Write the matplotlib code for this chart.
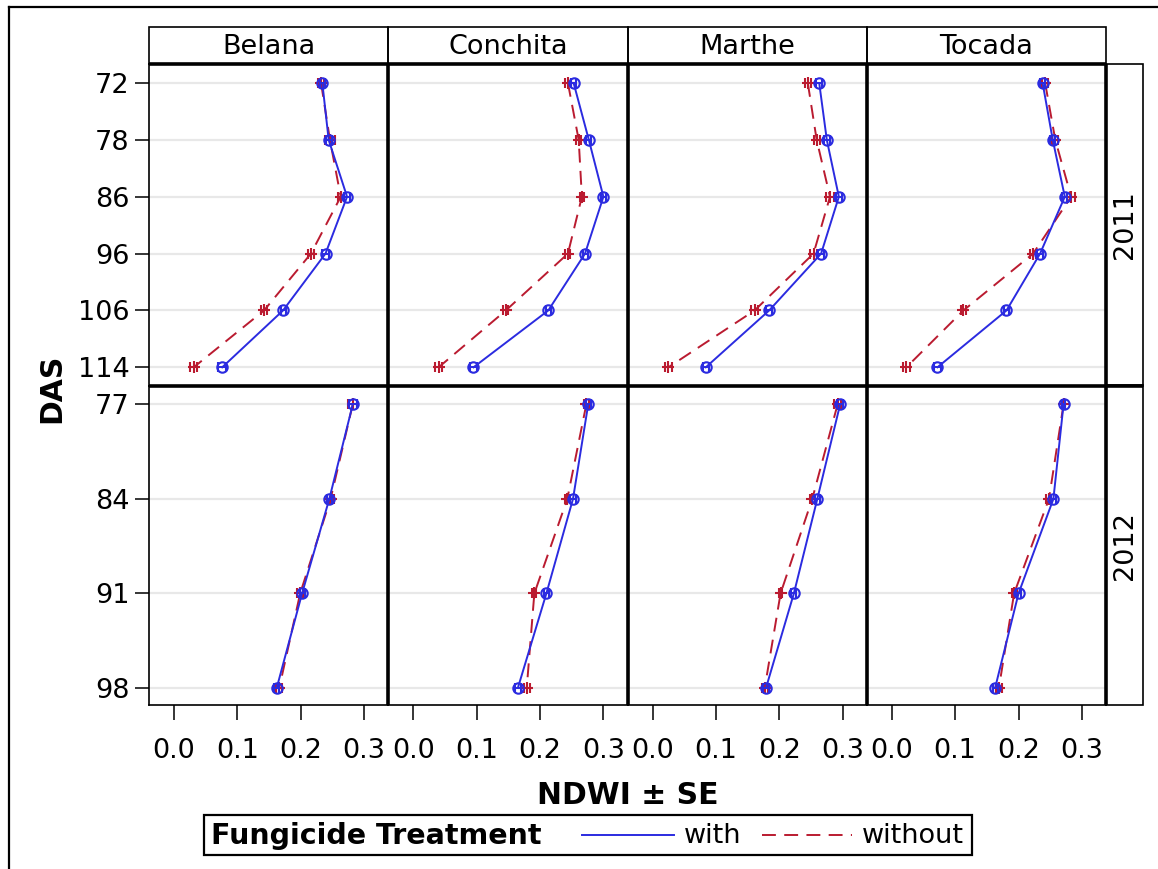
import matplotlib
matplotlib.use("Agg")
import matplotlib.pyplot as plt
from matplotlib.lines import Line2D
from matplotlib.patches import Rectangle

plt.rcParams['font.family'] = ['DejaVu Sans']
plt.rcParams['lines.scale_dashes'] = False

# ---- data -------------------------------------------------------------
cultivars = ["Belana", "Conchita", "Marthe", "Tocada"]
years = ["2011", "2012"]
das_2011 = ["72", "78", "86", "96", "106", "114"]
das_2012 = ["77", "84", "91", "98"]

# NDWI means, 2011 (per cultivar, in DAS order)
with_2011 = {
    "Belana":   [0.234, 0.244, 0.273, 0.239, 0.172, 0.076],
    "Conchita": [0.253, 0.277, 0.300, 0.271, 0.213, 0.095],
    "Marthe":   [0.263, 0.275, 0.294, 0.266, 0.184, 0.084],
    "Tocada":   [0.238, 0.254, 0.273, 0.234, 0.181, 0.072],
}
without_2011 = {
    "Belana":   [0.232, 0.246, 0.263, 0.216, 0.142, 0.031],
    "Conchita": [0.244, 0.261, 0.266, 0.244, 0.146, 0.040],
    "Marthe":   [0.245, 0.259, 0.280, 0.254, 0.161, 0.025],
    "Tocada":   [0.242, 0.258, 0.283, 0.223, 0.113, 0.023],
}
with_2012 = {
    "Belana":   [0.282, 0.245, 0.202, 0.162],
    "Conchita": [0.276, 0.252, 0.210, 0.165],
    "Marthe":   [0.296, 0.260, 0.223, 0.179],
    "Tocada":   [0.271, 0.255, 0.200, 0.163],
}
without_2012 = {
    "Belana":   [0.282, 0.247, 0.199, 0.166],
    "Conchita": [0.273, 0.243, 0.191, 0.179],
    "Marthe":   [0.292, 0.252, 0.202, 0.177],
    "Tocada":   [0.271, 0.248, 0.193, 0.169],
}
# standard errors
se_with_2011 = {
    "Belana":   [0.004, 0.005, 0.005, 0.005, 0.004, 0.006],
    "Conchita": [0.004, 0.004, 0.004, 0.004, 0.004, 0.005],
    "Marthe":   [0.005, 0.005, 0.005, 0.005, 0.005, 0.005],
    "Tocada":   [0.004, 0.004, 0.004, 0.005, 0.004, 0.005],
}
se_without_2011 = {
    "Belana":   [0.005, 0.008, 0.005, 0.005, 0.004, 0.006],
    "Conchita": [0.005, 0.004, 0.003, 0.004, 0.004, 0.005],
    "Marthe":   [0.005, 0.005, 0.006, 0.005, 0.005, 0.005],
    "Tocada":   [0.005, 0.005, 0.006, 0.005, 0.004, 0.005],
}
se_with_2012 = {
    "Belana":   [0.006, 0.004, 0.004, 0.004],
    "Conchita": [0.004, 0.004, 0.004, 0.005],
    "Marthe":   [0.005, 0.004, 0.004, 0.004],
    "Tocada":   [0.003, 0.004, 0.004, 0.004],
}
se_without_2012 = {
    "Belana":   [0.007, 0.005, 0.005, 0.005],
    "Conchita": [0.004, 0.004, 0.003, 0.005],
    "Marthe":   [0.005, 0.004, 0.003, 0.005],
    "Tocada":   [0.003, 0.004, 0.004, 0.005],
}
x_ticks = [0.0, 0.1, 0.2, 0.3]
x_tick_labels = ["0.0", "0.1", "0.2", "0.3"]

# ---- styling ----------------------------------------------------------
BLUE = "#2B2BE0"
RED = "#BA1B30"
GRID = "#E8E8E8"
DASH = (10, 6)
FS = 19.5
FS_BOLD = 21.5
W, H = 1158, 869

fig = plt.figure(figsize=(W / 100, H / 100), dpi=100)


def fx(px):
    return px / W


def fy(py):
    return 1 - py / H


left, right = 149, 1106
col_w = (right - left) / 4
row_edges = [(64, 385.5), (385.5, 705)]
strip_top, strip_bot = 27, 64
side_l, side_r = 1106, 1143

rows = [
    (das_2011, with_2011, without_2011, se_with_2011, se_without_2011, (5.32, -0.335)),
    (das_2012, with_2012, without_2012, se_with_2012, se_without_2012, (3.18, -0.20)),
]

for r, (labels, wd, wo, sew, sewo, ylim) in enumerate(rows):
    top, bot = row_edges[r]
    for c, cv in enumerate(cultivars):
        x0 = left + c * col_w
        ax = fig.add_axes([fx(x0), fy(bot), col_w / W, (bot - top) / H])
        ypos = list(range(len(labels)))
        for yv in ypos:
            ax.axhline(yv, color=GRID, lw=1.6, zorder=0)
        ax.errorbar(wd[cv], ypos, xerr=sew[cv], color=BLUE, lw=1.4,
                    marker='o', ms=7.5, mfc='none', mec=BLUE, mew=1.5,
                    elinewidth=1.4, capsize=3.8, capthick=1.4, zorder=3)
        ax.errorbar(wo[cv], ypos, xerr=sewo[cv], color=RED, lw=1.4,
                    dashes=DASH, marker='+', ms=9, mew=1.5,
                    elinewidth=1.4, capsize=3.8, capthick=1.4, zorder=2)
        ax.set_xlim(-0.0395, 0.338)
        ax.set_ylim(*ylim)
        ax.set_xticks(x_ticks)
        ax.set_yticks(ypos)
        for s in ax.spines.values():
            s.set_linewidth(1.2)
        if r == 1:
            ax.set_xticklabels(x_tick_labels, fontsize=FS)
            ax.tick_params(axis='x', length=11, width=1.1, pad=13)
        else:
            ax.tick_params(axis='x', length=0, labelbottom=False)
        if c == 0:
            ax.set_yticklabels(labels, fontsize=FS)
            ax.tick_params(axis='y', length=10, width=1.1, pad=4)
        else:
            ax.tick_params(axis='y', length=0, labelleft=False)

# column header cells
for c, cv in enumerate(cultivars):
    x0 = left + c * col_w
    fig.add_artist(Rectangle((fx(x0), fy(strip_bot)), col_w / W,
                             (strip_bot - strip_top) / H, transform=fig.transFigure,
                             fill=False, lw=1.2, ec='black'))
    fig.text(fx(x0 + col_w / 2), fy((strip_top + strip_bot) / 2 + 1), cv,
             ha='center', va='center', fontsize=FS)

# row header cells
for r, yr in enumerate(years):
    top, bot = row_edges[r]
    fig.add_artist(Rectangle((fx(side_l), fy(bot)), (side_r - side_l) / W,
                             (bot - top) / H, transform=fig.transFigure,
                             fill=False, lw=1.2, ec='black'))
    fig.text(fx((side_l + side_r) / 2 + 1), fy((top + bot) / 2), yr,
             ha='center', va='center', rotation=90, fontsize=FS)

# heavy panel separators
thick = dict(color='black', lw=2.6, transform=fig.transFigure, solid_capstyle='butt')
fig.add_artist(Line2D([fx(left), fx(right)], [fy(64), fy(64)], **thick))
fig.add_artist(Line2D([fx(left), fx(side_r)], [fy(385.5), fy(385.5)], **thick))
for c in range(1, 5):
    xp = left + c * col_w
    fig.add_artist(Line2D([fx(xp), fx(xp)], [fy(64), fy(705)], **thick))

# outer frame
fig.add_artist(Line2D([fx(9), fx(9)], [fy(7), 0], color='black', lw=1.6,
                      transform=fig.transFigure))
fig.add_artist(Line2D([fx(9), 1], [fy(7), fy(7)], color='black', lw=1.6,
                      transform=fig.transFigure))

# axis titles
fig.text(fx(52), fy(388), "DAS", rotation=90, ha='center', va='center',
         fontsize=FS_BOLD, fontweight='bold')
fig.text(fx(628), fy(795), "NDWI ± SE", ha='center', va='center',
         fontsize=FS_BOLD, fontweight='bold')

# legend
fig.add_artist(Rectangle((fx(204), fy(855)), (972 - 204) / W, (855 - 815) / H,
                         transform=fig.transFigure, fill=False, lw=1.6, ec='black'))
fig.text(fx(211), fy(836), "Fungicide Treatment", ha='left', va='center',
         fontsize=20.5, fontweight='bold')
fig.add_artist(Line2D([fx(582), fx(674)], [fy(835), fy(835)], color=BLUE, lw=1.4,
                      transform=fig.transFigure))
fig.text(fx(684), fy(836), "with", ha='left', va='center', fontsize=FS)
fig.add_artist(Line2D([fx(762), fx(852)], [fy(835), fy(835)], color=RED, lw=1.4,
                      dashes=DASH, transform=fig.transFigure))
fig.text(fx(862), fy(836), "without", ha='left', va='center', fontsize=FS)

fig.savefig("out.png", dpi=100)
